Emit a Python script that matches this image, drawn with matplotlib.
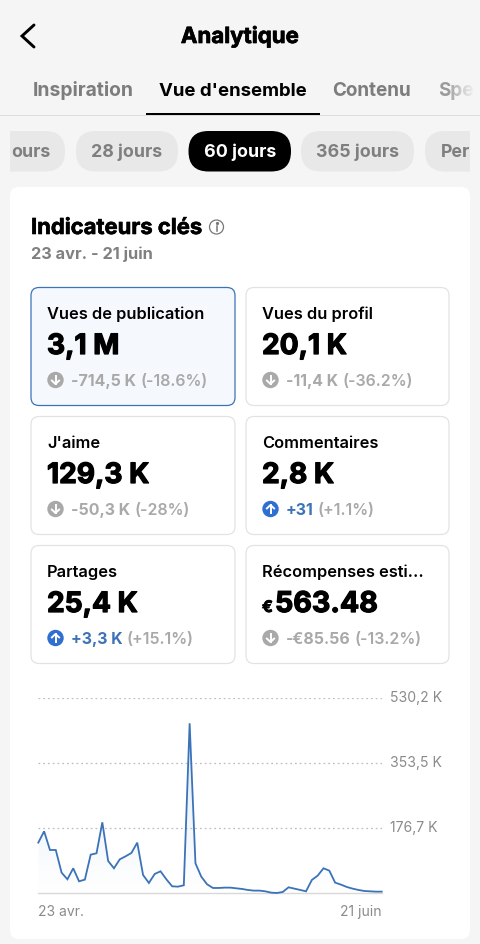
import numpy as np
import matplotlib
matplotlib.use("Agg")
import matplotlib.pyplot as plt
from matplotlib.patches import FancyBboxPatch, Rectangle, Circle, Polygon
from matplotlib.transforms import ScaledTranslation
from matplotlib import patheffects as pe

# ---- data ----
daily_views_k = [137.8, 168.6, 117.8, 117.8, 56.2, 38.1, 68.0, 32.6, 37.2, 105.1,
                 108.8, 193.0, 87.9, 68.0, 92.4, 100.6, 109.7, 137.8, 49.8, 28.1,
                 52.6, 59.8, 38.1, 19.0, 18.1, 21.8, 462.2, 81.6, 45.3, 24.5,
                 14.5, 14.5, 15.4, 15.4, 13.6, 11.8, 9.1, 7.3, 7.3, 5.4,
                 1.8, 0.9, 3.6, 16.3, 12.7, 9.1, 5.4, 36.3, 48.0, 68.0,
                 61.6, 29.0, 23.6, 17.2, 12.7, 9.1, 6.3, 5.4, 4.5, 4.5]
y_ticks_k = [176.7, 353.5, 530.2]
y_tick_labels = ["176,7 K", "353,5 K", "530,2 K"]
x_tick_labels = ["23 avr.", "21 juin"]

tabs = ["Inspiration", "Vue d'ensemble", "Contenu", "Spe"]
periods = ["ours", "28 jours", "60 jours", "365 jours", "Per"]
metric_names = ["Vues de publication", "Vues du profil", "J'aime", "Commentaires",
                "Partages", "Récompenses esti..."]
metric_values = ["3,1 M", "20,1 K", "129,3 K", "2,8 K", "25,4 K", "563.48"]
metric_deltas = ["-714,5 K", "-11,4 K", "-50,3 K", "+31", "+3,3 K", "-€85.56"]
metric_pcts = ["(-18.6%)", "(-36.2%)", "(-28%)", "(+1.1%)", "(+15.1%)", "(-13.2%)"]
metric_up = [False, False, False, True, True, False]

# ---- style ----
FONT = "Inter"
BG = "#f5f5f5"
BLUE = "#3c73b8"
ICON_BLUE = "#2f6fd0"
GREY = "#a9a9a9"
W, H = 480, 944
plt.rcParams["font.family"] = [FONT, "DejaVu Sans"]

fig = plt.figure(figsize=(W / 100, H / 100), dpi=100, facecolor=BG)
ui = fig.add_axes([0, 0, 1, 1])
ui.set_xlim(0, W)
ui.set_ylim(H, 0)
ui.axis("off")


def txt(x, y, s, size, color="black", weight="bold", ha="left", stroke=0, **kw):
    t = ui.text(x, y + 1.5, s, fontsize=size, color=color, fontweight=weight, ha=ha,
                va="center", **kw)
    if stroke:
        t.set_path_effects([pe.withStroke(linewidth=stroke, foreground=color)])
    return t


def rbox(x0, y0, x1, y1, r, fc, ec="none", lw=0, clip=None, z=1):
    p = FancyBboxPatch((x0 + r, y0 + r), x1 - x0 - 2 * r, y1 - y0 - 2 * r,
                       boxstyle=f"round,pad={r},rounding_size={r}", fc=fc, ec=ec,
                       lw=lw, zorder=z)
    ui.add_patch(p)
    if clip is not None:
        p.set_clip_path(clip)
    return p


# header
ui.plot([34, 22, 34], [25, 36, 47], color="black", lw=2.1, solid_capstyle="round",
        solid_joinstyle="miter")
txt(240, 35, "Analytique", 16, ha="center", stroke=0.5)
tab_x = [83.5, 233, 371.5, 438]
tab_s = [13.9, 13.4, 13.6, 13.6]
tab_c = ["#7d7d7d", "black", "#7d7d7d", "#9a9a9a"]
for s, x, c, fs in zip(tabs, tab_x, tab_c, tab_s):
    txt(x, 89.5, s, fs, color=c, ha="left" if s == "Spe" else "center")
ui.add_patch(Rectangle((0, 115), W, 1, fc="#dcdcdc", ec="none"))
ui.add_patch(Rectangle((146, 113), 174, 2.3, fc="black", ec="none", zorder=2))
fade = np.zeros((1, 40, 4))
fade[..., :3] = matplotlib.colors.to_rgb(BG)
fade[..., 3] = np.linspace(0, 1, 40) ** 0.8
ui.imshow(fade, extent=(448, 476, 110, 72), aspect="auto", zorder=3)
ui.set_xlim(0, W)
ui.set_ylim(H, 0)

# period pills
clip_r = Rectangle((10, 120), 460, 60, transform=ui.transData)
pills = [(-40, 65), (76, 178), (188.5, 291), (301, 414), (425, 520)]
for s, (a, b) in zip(periods, pills):
    sel = s == "60 jours"
    rbox(a, 131, b, 171.5, 20, "black" if sel else "#e8e8e8", clip=clip_r)
    color = "white" if sel else "#7f7f7f"
    if s == "ours":
        t = txt(50, 151, s, 12.8, color=color, ha="right")
    elif s == "Per":
        t = txt(441, 151, s, 12.8, color=color)
    else:
        t = txt((a + b) / 2, 151, s, 12.8, color=color, ha="center")
    t.set_clip_path(clip_r)

# panel
rbox(10, 187, 470, 939, 9, "white")
txt(31, 226.5, "Indicateurs clés", 15.85, stroke=0.45)
ui.add_patch(Circle((216.5, 227), 7, fc="none", ec="#777777", lw=0.9, zorder=3))
ui.plot([216.5, 216.5], [226, 231], color="#777777", lw=1.1, zorder=3)
ui.plot([216.5], [223.4], "o", ms=1.3, color="#777777", zorder=3)
txt(31, 253, "23 avr. - 21 juin", 11.8, color="#808080")

# metric cards
xs = [(31, 235), (246, 449)]
ys = [(287.5, 405.5), (416.5, 534.5), (545.5, 663.5)]
for i, name in enumerate(metric_names):
    (x0, x1), (y0, y1) = xs[i % 2], ys[i // 2]
    first = i == 0
    rbox(x0, y0, x1, y1, 8, "#f5f9fe" if first else "white",
         ec=BLUE if first else "#e3e3e3", lw=0.9, z=2)
    lx = x0 + 16
    txt(lx, y0 + 25.2, name, 11.8, weight="semibold", zorder=3)
    val = metric_values[i]
    if name.startswith("Récompenses"):
        txt(lx, y0 + 60.5, "€", 11.5, stroke=0.6, zorder=3)
        txt(lx + 13, y0 + 57.5, val, 20.6, stroke=0.9, zorder=3)
    else:
        txt(lx, y0 + 57.5, val, 20.2, stroke=0.9, zorder=3)
    # change row
    up = metric_up[i]
    cy = y0 + 92.5
    cx = lx + 8.5
    ui.add_patch(Circle((cx, cy), 8.2, fc=ICON_BLUE if up else GREY, ec="none", zorder=3))
    d = -1 if up else 1
    ui.plot([cx, cx], [cy - 4 * d, cy + 4 * d], color="white", lw=1.4, zorder=4)
    ui.plot([cx - 3.6, cx, cx + 3.6], [cy + 0.6 * d, cy + 4 * d, cy + 0.6 * d],
            color="white", lw=1.4, zorder=4)
    t1 = txt(lx + 24, cy, metric_deltas[i], 11.45, color=BLUE if up else GREY,
             weight="bold", zorder=3)
    fig.canvas.draw()
    bb = t1.get_window_extent().width
    txt(lx + 24 + bb + 4, cy, metric_pcts[i], 11.45, color=GREY, weight="semibold", zorder=3)

# line chart (pixel box: x 38.3..381.7, y 698.3..893.3)
ax = fig.add_axes([38.3 / W, 1 - 893.3 / H, (381.7 - 38.3) / W, (893.3 - 698.3) / H])
ax.patch.set_alpha(0)
days = np.arange(len(daily_views_k))
vals = np.array(daily_views_k)
ax.set_xlim(days[0], days[-1])
ax.set_ylim(0, y_ticks_k[-1])
for s in ["top", "left", "right"]:
    ax.spines[s].set_visible(False)
ax.spines["bottom"].set_color("#d8d8d8")
ax.spines["bottom"].set_linewidth(1.0)
ax.set_yticks(y_ticks_k)
ax.set_yticklabels(y_tick_labels)
ax.yaxis.tick_right()
ax.tick_params(axis="y", length=0, pad=6, labelsize=10.1, labelcolor="#8a8a8a")
lift = ScaledTranslation(0, 1.5 / 72 * 1.0, fig.dpi_scale_trans)
for lab in ax.get_yticklabels():
    lab.set_transform(lab.get_transform() + lift)
ax.set_xticks([days[0], days[-1]])
ax.set_xticklabels(x_tick_labels)
ax.tick_params(axis="x", length=0, pad=8.5, labelsize=10, labelcolor="#8a8a8a")
labs = ax.get_xticklabels()
labs[0].set_ha("left")
labs[1].set_ha("right")
ax.grid(axis="y", color="#bdbdbd", lw=0.9, linestyle=(0, (1.4, 2.4)))
ax.set_axisbelow(True)

grad = np.zeros((256, 1, 4))
grad[..., :3] = matplotlib.colors.to_rgb("#5b9be0")
grad[:, 0, 3] = np.linspace(0.2, 0.0, 256)
im = ax.imshow(grad, extent=(days[0], days[-1], 0, vals.max()), aspect="auto",
               origin="upper", zorder=1)
poly = Polygon(np.column_stack([np.r_[days[0], days, days[-1]], np.r_[0, vals, 0]]),
               transform=ax.transData, fc="none", ec="none")
ax.add_patch(poly)
im.set_clip_path(poly)
ax.set_xlim(days[0], days[-1])
ax.set_ylim(0, y_ticks_k[-1])
ax.plot(days, vals, color=BLUE, lw=1.3, zorder=3, solid_joinstyle="miter", clip_on=False)

fig.savefig("out.png", dpi=100, facecolor=BG)
